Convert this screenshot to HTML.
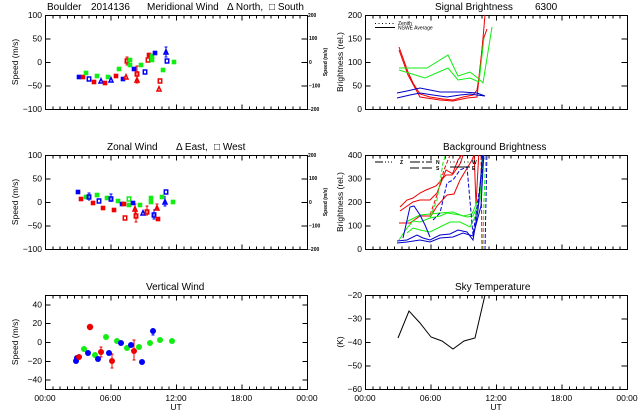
<!DOCTYPE html>
<html><head><meta charset="utf-8"><style>
html,body{margin:0;padding:0;background:#fff;}
svg{display:block;font-family:"Liberation Sans",sans-serif;}
.t{font-size:10px;fill:#000;}
.k{font-size:8.5px;fill:#000;}
.s{font-size:5px;fill:#000;font-weight:bold;}
</style></head><body>
<svg width="640" height="420" viewBox="0 0 640 420" xmlns="http://www.w3.org/2000/svg">
<defs>
<g id="xt" fill="none" stroke="#000" stroke-width="1">
<path d="M7.3 94v-3M14.6 94v-3M21.8 94v-3M29.1 94v-3M36.4 94v-3M43.7 94v-3M50.9 94v-3M58.2 94v-3M72.8 94v-3M80.1 94v-3M87.3 94v-3M94.6 94v-3M101.9 94v-3M109.2 94v-3M116.4 94v-3M123.7 94v-3M138.3 94v-3M145.6 94v-3M152.8 94v-3M160.1 94v-3M167.4 94v-3M174.7 94v-3M181.9 94v-3M189.2 94v-3M203.8 94v-3M211.1 94v-3M218.3 94v-3M225.6 94v-3M232.9 94v-3M240.2 94v-3M247.4 94v-3M254.7 94v-3"/>
<path d="M7.3 0v3M14.6 0v3M21.8 0v3M29.1 0v3M36.4 0v3M43.7 0v3M50.9 0v3M58.2 0v3M72.8 0v3M80.1 0v3M87.3 0v3M94.6 0v3M101.9 0v3M109.2 0v3M116.4 0v3M123.7 0v3M138.3 0v3M145.6 0v3M152.8 0v3M160.1 0v3M167.4 0v3M174.7 0v3M181.9 0v3M189.2 0v3M203.8 0v3M211.1 0v3M218.3 0v3M225.6 0v3M232.9 0v3M240.2 0v3M247.4 0v3M254.7 0v3"/>
<path d="M65.5 94v-5M131 94v-5M196.5 94v-5M65.5 0v5M131 0v5M196.5 0v5"/>
<rect x="0" y="0" width="262" height="94"/>
</g>
<g id="y4" fill="none" stroke="#000"><path d="M0 23.5h5M0 47h5M0 70.5h5M262 23.5h-6M262 47h-6M262 70.5h-6"/></g>
<g id="yv" fill="none" stroke="#000"><path d="M0 9.4h5M0 28.2h5M0 47h5M0 65.8h5M0 84.6h5M262 9.4h-5M262 28.2h-5M262 47h-5M262 65.8h-5M262 84.6h-5"/></g>
<rect id="fs" x="-2.3" y="-2.3" width="4.6" height="4.6"/>
<rect id="os" x="-1.7" y="-2" width="3.4" height="4" fill="none" stroke-width="1.5"/>
<path id="tr" d="M0 -2.3L2 2H-2Z" fill="none" stroke-width="1.5"/>
<clipPath id="c1"><rect x="365" y="15" width="262" height="94"/></clipPath>
<clipPath id="c2"><rect x="365" y="155" width="262" height="94"/></clipPath>
<clipPath id="c3"><rect x="365" y="295" width="262" height="94"/></clipPath>
</defs>

<g shape-rendering="crispEdges">
<use href="#xt" x="45.5" y="15.5"/><use href="#y4" x="45.5" y="15.5"/>
<use href="#xt" x="365.5" y="15.5"/><use href="#y4" x="365.5" y="15.5"/>
<use href="#xt" x="45.5" y="155.5"/><use href="#y4" x="45.5" y="155.5"/>
<use href="#xt" x="365.5" y="155.5"/><use href="#y4" x="365.5" y="155.5"/>
<use href="#xt" x="45.5" y="295.5"/><use href="#yv" x="45.5" y="295.5"/>
<use href="#xt" x="365.5" y="295.5"/><use href="#y4" x="365.5" y="295.5"/>
</g>

<text class="t" x="47" y="10">Boulder</text>
<text class="t" x="91" y="10">2014136</text>
<text class="t" x="147" y="10">Meridional Wind</text>
<text class="t" x="227" y="10">Δ North,</text>
<text class="t" x="269" y="10">□ South</text>
<text class="t" x="435" y="10">Signal Brightness</text>
<text class="t" x="535" y="10">6300</text>
<text class="t" x="107" y="150">Zonal Wind</text>
<text class="t" x="176" y="150">Δ East,</text>
<text class="t" x="214" y="150">□ West</text>
<text class="t" x="443" y="150">Background Brightness</text>
<text class="t" x="146" y="290">Vertical Wind</text>
<text class="t" x="455" y="290">Sky Temperature</text>

<text class="k" transform="translate(18,62) rotate(-90)" text-anchor="middle">Speed (m/s)</text>
<text class="k" transform="translate(18,202) rotate(-90)" text-anchor="middle">Speed (m/s)</text>
<text class="k" transform="translate(18,342) rotate(-90)" text-anchor="middle">Speed (m/s)</text>
<text class="k" transform="translate(343,62) rotate(-90)" text-anchor="middle">Brightness (rel.)</text>
<text class="k" transform="translate(343,202) rotate(-90)" text-anchor="middle">Brightness (rel.)</text>
<text class="k" transform="translate(343,342) rotate(-90)" text-anchor="middle">(K)</text>
<text class="s" transform="translate(327,62) rotate(-90)" text-anchor="middle">Speed (m/s)</text>
<text class="s" transform="translate(327,202) rotate(-90)" text-anchor="middle">Speed (m/s)</text>

<g class="k" text-anchor="end">
<text x="42" y="18">100</text><text x="42" y="41.5">50</text><text x="42" y="65">0</text><text x="42" y="88.5">−50</text><text x="42" y="112">−100</text>
<text x="42" y="158">100</text><text x="42" y="181.5">50</text><text x="42" y="205">0</text><text x="42" y="228.5">−50</text><text x="42" y="252">−100</text>
<text x="42" y="307.5">40</text><text x="42" y="326">20</text><text x="42" y="345">0</text><text x="42" y="364">−20</text><text x="42" y="382.5">−40</text>
<text x="362" y="18">200</text><text x="362" y="41.5">150</text><text x="362" y="65">100</text><text x="362" y="88.5">50</text><text x="362" y="112">0</text>
<text x="362" y="158">400</text><text x="362" y="181.5">300</text><text x="362" y="205">200</text><text x="362" y="228.5">100</text><text x="362" y="252">0</text>
<text x="362" y="298">−20</text><text x="362" y="321.5">−30</text><text x="362" y="345">−40</text><text x="362" y="368.5">−50</text><text x="362" y="392">−60</text>
</g>
<g class="s">
<text x="308" y="17">200</text><text x="309" y="40">100</text><text x="309" y="64">0</text><text x="309" y="87.5">−100</text><text x="308" y="111">−200</text>
<text x="308" y="157">200</text><text x="309" y="180">100</text><text x="309" y="204">0</text><text x="309" y="227.5">−100</text><text x="308" y="251">−200</text>
</g>
<g class="k" text-anchor="middle">
<text x="45" y="401">00:00</text><text x="110.5" y="401">06:00</text><text x="176" y="401">12:00</text><text x="241.5" y="401">18:00</text><text x="307" y="401">00:00</text>
<text x="176" y="410">UT</text>
<text x="365" y="401">00:00</text><text x="430.5" y="401">06:00</text><text x="496" y="401">12:00</text><text x="561.5" y="401">18:00</text><text x="627" y="401">00:00</text>
<text x="496" y="410">UT</text>
</g>

<g stroke="#e00" fill="none" stroke-width="1"><path d="M127 57v8M125.5 57h3M125.5 65h3M137 66v12M135.5 66h3M137 77v6M135.5 83h3"/></g>
<g stroke="#00f" fill="none"><path d="M166 47v10M164.5 47h3M164.5 57h3"/></g>
<g>
<use href="#fs" x="79" y="77" fill="#00f"/><use href="#fs" x="83" y="77" fill="#e00"/><use href="#fs" x="86" y="73" fill="#1e1"/>
<use href="#os" x="89" y="79" stroke="#00f"/><use href="#fs" x="94" y="82" fill="#e00"/><use href="#fs" x="97" y="76" fill="#1e1"/>
<use href="#tr" x="101" y="81" stroke="#00f"/><use href="#fs" x="105" y="83" fill="#e00"/><use href="#fs" x="108" y="77" fill="#1e1"/>
<use href="#tr" x="111" y="80" stroke="#00f"/><use href="#fs" x="116" y="76" fill="#e00"/><use href="#fs" x="119" y="69" fill="#1e1"/>
<use href="#fs" x="123" y="79" fill="#00f"/><use href="#tr" x="126" y="77" stroke="#e00"/><use href="#os" x="127" y="61" stroke="#e00"/>
<use href="#fs" x="130" y="60" fill="#1e1"/><use href="#fs" x="130" y="65" fill="#1e1"/><use href="#fs" x="134" y="69" fill="#00f"/>
<use href="#os" x="137" y="74" stroke="#e00"/><use href="#tr" x="137" y="80" stroke="#e00"/><use href="#fs" x="141" y="65" fill="#1e1"/>
<use href="#os" x="145" y="72" stroke="#00f"/><use href="#fs" x="149" y="55" fill="#e00"/><use href="#os" x="148" y="60" stroke="#e00"/>
<use href="#fs" x="152" y="56" fill="#1e1"/><use href="#fs" x="152" y="60" fill="#1e1"/><use href="#fs" x="155" y="53" fill="#00f"/>
<use href="#os" x="160" y="81" stroke="#e00"/><use href="#tr" x="159" y="89" stroke="#e00"/><use href="#fs" x="163" y="70" fill="#1e1"/>
<use href="#tr" x="166" y="52" stroke="#00f"/><use href="#os" x="167" y="61" stroke="#00f"/><use href="#fs" x="174" y="62" fill="#1e1"/>
</g>

<g stroke="#e00" fill="none"><path d="M135 204v10M133.5 204h3M136 211v11M134.5 222h3M147 206v10M145.5 206h3M157 204v6M155.5 204h3"/></g>
<g stroke="#00f" fill="none"><path d="M154 209v10M152.5 219h3M165 196v10M163.5 206h3M89 193v8M87.5 193h3M111 194v8M109.5 194h3"/></g>
<g>
<use href="#fs" x="78" y="192" fill="#00f"/><use href="#fs" x="81" y="199" fill="#e00"/><use href="#fs" x="86" y="197" fill="#1e1"/>
<use href="#os" x="89" y="197" stroke="#00f"/><use href="#fs" x="93" y="203" fill="#e00"/><use href="#fs" x="97" y="195" fill="#1e1"/>
<use href="#os" x="99" y="201" stroke="#00f"/><use href="#fs" x="103" y="208" fill="#e00"/><use href="#fs" x="107" y="198" fill="#1e1"/>
<use href="#os" x="111" y="199" stroke="#00f"/><use href="#fs" x="114" y="210" fill="#e00"/><use href="#fs" x="118" y="201" fill="#1e1"/>
<use href="#fs" x="122" y="204" fill="#00f"/><use href="#fs" x="124" y="204" fill="#e00"/><use href="#os" x="125" y="218" stroke="#e00"/>
<use href="#fs" x="129" y="205" fill="#1e1"/><use href="#os" x="129" y="199" stroke="#1e1"/><use href="#fs" x="133" y="203" fill="#00f"/>
<use href="#tr" x="135" y="209" stroke="#e00"/><use href="#os" x="136" y="216" stroke="#e00"/><use href="#fs" x="140" y="205" fill="#1e1"/>
<use href="#tr" x="143" y="213" stroke="#00f"/><use href="#os" x="147" y="212" stroke="#e00"/><use href="#fs" x="151" y="198" fill="#1e1"/>
<use href="#fs" x="151" y="202" fill="#1e1"/><use href="#os" x="154" y="215" stroke="#00f"/><use href="#tr" x="157" y="208" stroke="#e00"/>
<use href="#fs" x="158" y="219" fill="#e00"/><use href="#fs" x="162" y="197" fill="#1e1"/><use href="#tr" x="165" y="202" stroke="#00f"/>
<use href="#os" x="166" y="192" stroke="#00f"/><use href="#fs" x="173" y="202" fill="#1e1"/>
</g>

<g stroke="#e00" fill="none"><path d="M101 347v10M99.5 347h3M99.5 357h3M112 354v14M110.5 354h3M110.5 368h3M134 340v20M132.5 340h3M132.5 360h3"/></g>
<g stroke="#00f" fill="none"><path d="M153 328v7M151.5 335h3"/></g>
<g>
<circle cx="76" cy="361" r="3" fill="#00f"/><circle cx="77" cy="358" r="3" fill="#00f"/><circle cx="79" cy="357" r="3" fill="#e00"/>
<circle cx="84" cy="349" r="3" fill="#1e1"/><circle cx="88" cy="353" r="3" fill="#00f"/><circle cx="90" cy="327" r="3.2" fill="#e00"/>
<circle cx="95" cy="355" r="3" fill="#1e1"/><circle cx="98" cy="359" r="3" fill="#00f"/><circle cx="101" cy="352" r="3" fill="#e00"/>
<circle cx="106" cy="337" r="3" fill="#1e1"/><circle cx="109" cy="353" r="3" fill="#00f"/><circle cx="112" cy="361" r="3" fill="#e00"/>
<circle cx="117" cy="341" r="3" fill="#1e1"/><circle cx="121" cy="343" r="3" fill="#00f"/><circle cx="127" cy="348" r="3" fill="#1e1"/>
<circle cx="131" cy="345" r="3" fill="#00f"/><circle cx="134" cy="351" r="3" fill="#e00"/><circle cx="139" cy="347" r="3" fill="#1e1"/>
<circle cx="142" cy="362" r="3" fill="#00f"/><circle cx="150" cy="343" r="3" fill="#1e1"/><circle cx="153" cy="331" r="3" fill="#00f"/>
<circle cx="160" cy="340" r="3" fill="#1e1"/><circle cx="172" cy="341" r="3" fill="#1e1"/>
</g>

<g clip-path="url(#c1)" fill="none" stroke-width="1">
<polyline stroke="#e00" points="399,47 403,58 408,72 413,83 420,94 430,97 443,99 453,100 463,97 473,95 477,90 479,77 482,50 485,15 486,10"/>
<polyline stroke="#e00" points="399,50 408,75 420,97 440,100 453,101 467,98 477,97 483,40 487,29"/>
<polyline stroke="#1e1" points="399,68 417,68 427,68 448,55 458,76 470,72 479,79 483,83 492,27"/>
<polyline stroke="#1e1" points="399,70 425,78 448,68 458,80 470,78 479,82 484,38"/>
<polyline stroke="#00c" points="397,93 407,91 420,88 430,90 440,92 463,92 477,93 485,96"/>
<polyline stroke="#00c" points="397,98 410,95 420,93 433,95 447,97 460,95 470,94 477,95 485,96"/>
<path stroke="#000" d="M375 23.5h20" stroke-dasharray="1 2.5"/>
<path stroke="#000" d="M375 27.5h20"/>
</g>
<text class="s" x="398" y="25" style="font-weight:normal">Zenith</text>
<text class="s" x="398" y="29.5" style="font-weight:normal">NSWE Average</text>

<g clip-path="url(#c2)" fill="none" stroke-width="1">
<polyline stroke="#e00" points="399,223 410,223 420,216 431,216 437,206 447,195 454,194 460,180 466,170 472,160 476,150"/>
<polyline stroke="#e00" points="400,211 413,202 420,200 430,200 437,193 446,170 453,174 460,164 465,150"/>
<polyline stroke="#e00" points="400,207 407,200 413,198 420,193 426,190 436,186 446,175 452,175 458,160 465,150"/>
<polyline stroke="#e00" stroke-dasharray="4 2" points="430,215 437,195 444,170 452,150"/>
<polyline stroke="#e00" points="474,150 476,205 479,150"/>
<polyline stroke="#e00" stroke-dasharray="4 2" points="481,150 482,250"/>
<polyline stroke="#1e1" points="399,240 407,228 413,221 420,222 430,218 440,216 447,213 460,215 467,217 473,216 478,205 482,180 484,150"/>
<polyline stroke="#1e1" points="407,233 413,228 420,230 430,232 440,227 450,222 460,222 470,227 476,215 481,195 483,150"/>
<polyline stroke="#1e1" points="406,222 420,215 430,214 440,213 453,212 463,216 472,214 478,200"/>
<polyline stroke="#1e1" stroke-dasharray="4 2" points="430,218 437,200 443,163 447,150"/>
<polyline stroke="#1e1" stroke-dasharray="4 2" points="483,250 484,200 486,150"/>
<polyline stroke="#00c" points="397,241 407,240 417,235 423,238 430,240 440,235 450,234 458,230 467,232 473,240 478,210 483,150"/>
<polyline stroke="#00c" points="397,243 407,242 420,240 430,242 440,238 453,237 463,233 473,236 481,206 484,150"/>
<polyline stroke="#00c" points="403,238 410,207 414,206 420,215 425,225 430,237"/>
<polyline stroke="#00c" stroke-dasharray="4 2" points="433,220 440,213 447,183 453,180 460,170 467,167 473,235 478,200 485,150"/>
<polyline stroke="#00c" stroke-dasharray="4 2" points="485,250 487,150"/>
<path stroke="#000" d="M375 162h8M385 162h1M388 162h1M391 162h1M410 162h10M422 162h2M426 162h6"/>
<path stroke="#000" d="M410 168h9M422 168h10"/>
<path stroke="#000" d="M450 162h20" stroke-dasharray="1 2.5"/>
<path stroke="#000" d="M450 167h20"/>
</g>
<g class="s"><text x="400" y="164">Z</text><text x="436" y="164">N</text><text x="436" y="170">S</text><text x="472" y="164">W</text><text x="472" y="170">E</text></g>

<g clip-path="url(#c3)" fill="none">
<polyline stroke="#000" points="398,338 409,311 420,323 431,337 442,341 453,349 464,341 475,338 485,295 487,285"/>
</g>
</svg>
</body></html>
